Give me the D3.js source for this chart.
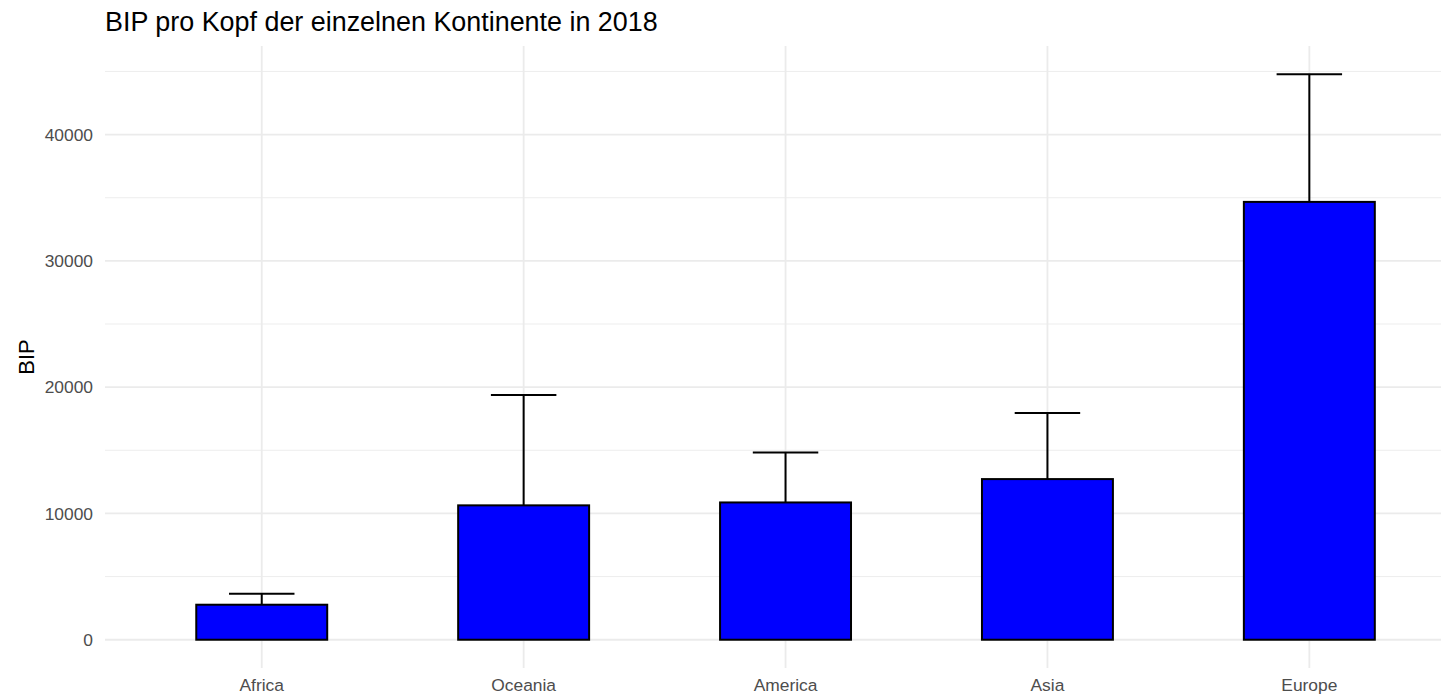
<!DOCTYPE html>
<html><head><meta charset="utf-8">
<script src="https://cdn.jsdelivr.net/npm/d3@7"></script>
<style>body{margin:0;background:#fff;} text{font-family:"Liberation Sans",Arial,sans-serif;}</style>
</head><body>
<svg id="c" width="1447" height="695"></svg>
<script>
const categories = ["Africa","Oceania","America","Asia","Europe"];
const meanValues = [2772, 10640, 10870, 12720, 34670];
const upperValues = [3644, 19385, 14830, 17960, 44775];
const yTicks = [0, 10000, 20000, 30000, 40000];
const yMinorTicks = [5000, 15000, 25000, 35000, 45000];
const titleText = "BIP pro Kopf der einzelnen Kontinente in 2018";
const yLabel = "BIP";

const svg = d3.select("#c");
const panel = {left: 105, right: 1441, top: 46, bottom: 668};
const yMax = d3.max(upperValues);
const pad = yMax * 0.05;
const y = d3.scaleLinear().domain([-pad, yMax + pad]).range([panel.bottom, panel.top]);
const x = d3.scaleLinear().domain([-0.6, categories.length - 1 + 0.6]).range([104.6, 104.6 + 5.2 * 261.9]);
const barW = x(0.5) - x(0);

const g = svg.append("g");
// minor grid
g.selectAll(".minor").data(yMinorTicks).enter().append("line")
  .attr("x1", panel.left).attr("x2", panel.right)
  .attr("y1", d => y(d)).attr("y2", d => y(d))
  .attr("stroke", "#ebebeb").attr("stroke-width", 0.9);
// major grid
g.selectAll(".major").data(yTicks).enter().append("line")
  .attr("x1", panel.left).attr("x2", panel.right)
  .attr("y1", d => y(d)).attr("y2", d => y(d))
  .attr("stroke", "#ebebeb").attr("stroke-width", 1.8);
g.selectAll(".vgrid").data(categories).enter().append("line")
  .attr("x1", (d, i) => x(i)).attr("x2", (d, i) => x(i))
  .attr("y1", panel.top).attr("y2", panel.bottom)
  .attr("stroke", "#ebebeb").attr("stroke-width", 1.8);

// error bars
const eb = g.selectAll(".eb").data(categories).enter().append("g");
eb.append("line")
  .attr("x1", (d, i) => x(i)).attr("x2", (d, i) => x(i))
  .attr("y1", (d, i) => y(meanValues[i])).attr("y2", (d, i) => y(upperValues[i]))
  .attr("stroke", "#000").attr("stroke-width", 2);
eb.append("line")
  .attr("x1", (d, i) => x(i - 0.125)).attr("x2", (d, i) => x(i + 0.125))
  .attr("y1", (d, i) => y(upperValues[i])).attr("y2", (d, i) => y(upperValues[i]))
  .attr("stroke", "#000").attr("stroke-width", 2);

// bars
g.selectAll(".bar").data(categories).enter().append("rect")
  .attr("x", (d, i) => x(i) - barW / 2)
  .attr("width", barW)
  .attr("y", (d, i) => y(meanValues[i]))
  .attr("height", (d, i) => y(0) - y(meanValues[i]))
  .attr("fill", "#0000ff").attr("stroke", "#000").attr("stroke-width", 2);

// y tick labels
g.selectAll(".ytl").data(yTicks).enter().append("text")
  .attr("x", 93).attr("y", d => y(d)).attr("dy", "0.36em")
  .attr("text-anchor", "end").attr("font-size", 17.4).attr("fill", "#4d4d4d")
  .text(d => d);
// x tick labels
g.selectAll(".xtl").data(categories).enter().append("text")
  .attr("x", (d, i) => x(i)).attr("y", 691)
  .attr("text-anchor", "middle").attr("font-size", 17.4).attr("fill", "#4d4d4d")
  .text(d => d);

// title
svg.append("text").attr("x", 105).attr("y", 31).attr("font-size", 26.9).attr("fill", "#000").text(titleText);
// y label
svg.append("text").attr("transform", `translate(34,${(panel.top + panel.bottom) / 2}) rotate(-90)`)
  .attr("text-anchor", "middle").attr("font-size", 22).attr("fill", "#000").text(yLabel);
</script>
</body></html>
